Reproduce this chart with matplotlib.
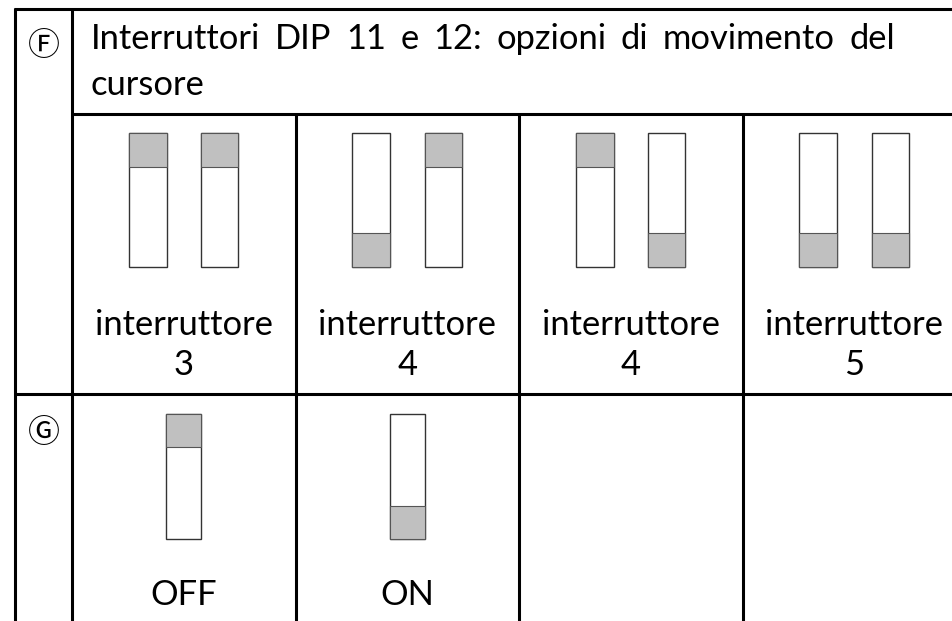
import matplotlib
matplotlib.use("Agg")
import matplotlib.pyplot as plt
from matplotlib.patches import Rectangle

plt.rcParams['font.family'] = ['Lato', 'DejaVu Sans']

# --- contents of the table ---
title = "Interruttori DIP 11 e 12: opzioni di movimento del"
title_cont = "cursore"
row_f_mark = "\u24bb"
row_g_mark = "\u24bc"
row_f_labels = ["interruttore\n3", "interruttore\n4", "interruttore\n4", "interruttore\n5"]
row_f_states = [("up", "up"), ("down", "up"), ("up", "down"), ("down", "down")]
row_g_labels = ["OFF", "ON"]
row_g_states = ["up", "down"]

W, H = 952, 621
fig = plt.figure(figsize=(W / 100, H / 100), dpi=100)
ax = fig.add_axes([0, 0, 1, 1])
ax.set_xlim(0, W)
ax.set_ylim(H, 0)
ax.axis('off')

LW = 2.2
left, div, top = 15, 72, 9
title_bot, row_split = 114, 394
col_w = 223.5
cols = [div + i * col_w for i in range(5)]

def hline(y, x0, x1):
    ax.plot([x0, x1], [y, y], color='black', lw=LW, solid_capstyle='butt')

def vline(x, y0, y1):
    ax.plot([x, x], [y0, y1], color='black', lw=LW, solid_capstyle='butt')

hline(top, left - 1, W + 5)
hline(title_bot, div - 1, W + 5)
hline(row_split, left - 1, W + 5)
vline(left, top - 1, H + 5)
vline(div, top - 1, H + 5)
for x in cols[1:4]:
    vline(x, title_bot - 1, H + 5)

def switch(cx, y0, h, w, state, knob):
    ax.add_patch(Rectangle((cx - w / 2, y0), w, h, facecolor='white',
                           edgecolor='#333333', lw=1.0))
    ky = y0 if state == "up" else y0 + h - knob
    ax.add_patch(Rectangle((cx - w / 2, ky), w, knob, facecolor='#c0c0c0',
                           edgecolor='#555555', lw=0.8))

# circled markers
mark_fam = ['Noto Sans CJK JP', 'DejaVu Sans']
ax.text(43.5, 46, row_f_mark, fontsize=23, ha='center', va='center', family=mark_fam)
ax.text(43.5, 433, row_g_mark, fontsize=23, ha='center', va='center', family=mark_fam)

FS = 24.8
# justified first title line
fig.canvas.draw()
renderer = fig.canvas.get_renderer()
words = title.split()
tx0, tx1 = 91, 895
arts = [ax.text(0, 49, w_, fontsize=FS, ha='left', va='baseline') for w_ in words]
widths = [a.get_window_extent(renderer).width for a in arts]
gap = (tx1 - tx0 - sum(widths)) / (len(words) - 1)
x = tx0
for a, wd in zip(arts, widths):
    a.set_x(x)
    x += wd + gap
ax.text(tx0, 95, title_cont, fontsize=FS, ha='left', va='baseline')

# row F: pairs of switches with labels
for i, (lab, st) in enumerate(zip(row_f_labels, row_f_states)):
    cx = (cols[i] + cols[i + 1]) / 2
    switch(cx - 36, 133, 134, 38, st[0], 34)
    switch(cx + 36, 133, 134, 37, st[1], 34)
    for j, line in enumerate(lab.split("\n")):
        ax.text(cx, 335 + 40 * j, line, fontsize=FS, ha='center', va='baseline')

# row G: single switches
for i, (lab, st) in enumerate(zip(row_g_labels, row_g_states)):
    cx = (cols[i] + cols[i + 1]) / 2
    switch(cx, 414, 125, 35, st, 33)
    ax.text(cx, 605, lab, fontsize=FS, ha='center', va='baseline')

fig.savefig("out.png", dpi=100, facecolor='white')
